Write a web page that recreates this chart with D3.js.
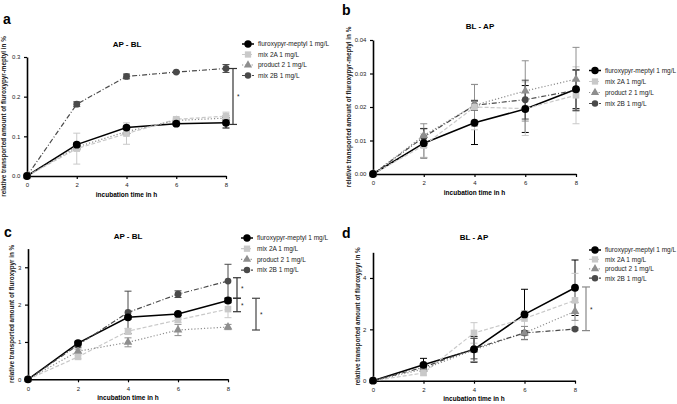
<!DOCTYPE html>
<html><head><meta charset="utf-8">
<script src="https://cdn.jsdelivr.net/npm/d3@7"></script>
<style>
body{margin:0;background:#fff;}
svg{display:block;font-family:Arial,"Liberation Sans",sans-serif;}
</style></head>
<body>
<svg id="chart" width="677" height="404"></svg>
<script>
// ---------- data ----------
const times = [0, 2, 4, 6, 8];
const seriesNames = ["fluroxypyr-meptyl 1 mg/L", "mix 2A 1 mg/L", "product 2 1 mg/L", "mix 2B 1 mg/L"];

// panel a: AP - BL, fluroxypyr-meptyl
const aFPM = [0, 0.079, 0.122, 0.132, 0.134];
const aFPMerr = [0, 0.004, 0.004, 0.003, 0.013];
const a2A = [0, 0.069, 0.107, 0.143, 0.151];
const a2Aerr = [0, 0.039, 0.027, 0.005, 0.010];
const aP2 = [0, 0.073, 0.112, 0.140, 0.146];
const aP2err = [0, 0.008, 0.008, 0.004, 0.006];
const a2B = [0, 0.181, 0.251, 0.262, 0.271];
const a2Berr = [0, 0.006, 0.006, 0.002, 0.010];

// panel b: BL - AP, fluroxypyr-meptyl
const bFPM = [0, 0.0092, 0.0153, 0.0194, 0.0253];
const bFPMerr = [0, 0.0044, 0.0065, 0.0070, 0.0058];
const b2A = [0, 0.0085, 0.0200, 0.0195, 0.0235];
const b2Aerr = [0, 0.0035, 0.0068, 0.0080, 0.0085];
const bP2 = [0, 0.0115, 0.0205, 0.0248, 0.0283];
const bP2err = [0, 0.0035, 0.0062, 0.0090, 0.0095];
const b2B = [0, 0.0110, 0.0205, 0.0222, 0.0250];
const b2Berr = [0, 0.0025, 0.0015, 0.0058, 0.0060];

// panel c: AP - BL, fluroxypyr
const cFPM = [0, 0.97, 1.66, 1.75, 2.11];
const cFPMerr = [0, 0.05, 0.05, 0.04, 0.06];
const c2A = [0, 0.60, 1.29, 1.59, 1.88];
const c2Aerr = [0, 0.05, 0.07, 0.07, 0.23];
const cP2 = [0, 0.75, 0.99, 1.32, 1.40];
const cP2err = [0, 0.06, 0.12, 0.15, 0.07];
const c2B = [0, 0.92, 1.79, 2.28, 2.63];
const c2Berr = [0, 0.06, 0.57, 0.09, 0.45];

// panel d: BL - AP, fluroxypyr
const dFPM = [0, 0.62, 1.22, 2.58, 3.62];
const dFPMerr = [0, 0.25, 0.50, 0.98, 1.08];
const d2A = [0, 0.30, 1.86, 2.42, 3.13];
const d2Aerr = [0, 0.08, 0.40, 0.30, 1.05];
const dP2 = [0, 0.45, 1.20, 1.86, 2.70];
const dP2err = [0, 0.10, 0.45, 0.25, 0.35];
const d2B = [0, 0.52, 1.25, 1.86, 2.01];
const d2Berr = [0, 0.08, 0.40, 0.08, 0.04];

// significance brackets [from, to] in data units
const aBrackets = [[0.271, 0.130]];
const cBrackets = [[2.72, 2.17], [2.17, 1.81]];
const cBrackets2 = [[2.17, 1.32]];
const dBrackets = [[3.65, 1.95]];

// tick labels
const aTicks = [0, 0.1, 0.2, 0.3];
const bTicks = [0, 0.01, 0.02, 0.03, 0.04];
const cTicks = [0, 1, 2, 3];
const dTicks = [0, 2, 4];

// ---------- styles ----------
const styles = [
  {color: "#000000", dash: null, shape: "circle", r: 3.9, width: 1.5},
  {color: "#c9c9c9", dash: "4,2", shape: "square", r: 3.3, width: 1.2},
  {color: "#8e8e8e", dash: "1.2,2", shape: "triangle", r: 3.2, width: 1.2},
  {color: "#4a4a4a", dash: "5,2,1,2", shape: "circle", r: 3.4, width: 1.2}
];

const svg = d3.select("#chart");

function marker(g, shape, cx, cy, r, color) {
  if (shape === "circle") {
    g.append("circle").attr("cx", cx).attr("cy", cy).attr("r", r).attr("fill", color);
  } else if (shape === "square") {
    g.append("rect").attr("x", cx - r).attr("y", cy - r).attr("width", 2 * r).attr("height", 2 * r).attr("fill", color);
  } else {
    const sym = d3.symbol().type(d3.symbolTriangle).size(r * r * 3.2);
    g.append("path").attr("d", sym()).attr("transform", `translate(${cx},${cy})`).attr("fill", color);
  }
}

function drawPanel(p) {
  const g = svg.append("g");
  const x = d3.scaleLinear().domain([0, 8]).range([p.x0, p.x1]);
  const y = d3.scaleLinear().domain([0, p.ymax]).range([p.y0, p.y1]);

  // axes
  const xAxis = d3.axisBottom(x).tickValues(times).tickSize(3).tickSizeOuter(0).tickFormat(d3.format("d"));
  const xa = g.append("g").attr("transform", `translate(0,${p.y0})`).call(xAxis);
  const yAxis = d3.axisLeft(y).tickValues(p.ticks).tickSize(3).tickSizeOuter(0).tickFormat(p.fmt);
  const ya = g.append("g").attr("transform", `translate(${p.x0},0)`).call(yAxis);
  [xa, ya].forEach(a => {
    a.select(".domain").attr("stroke", "#000").attr("stroke-width", 1.6);
    a.selectAll(".tick line").attr("stroke", "#000").attr("stroke-width", 1.2);
    a.selectAll(".tick text").attr("font-size", 6).attr("fill", "#222").attr("font-family", "Arial, Liberation Sans, sans-serif");
  });
  xa.selectAll(".tick text").attr("dy", "0.9em");
  ya.selectAll(".tick text").attr("dx", "-0.1em");

  // series
  p.series.forEach((s, i) => {
    const st = styles[i];
    const line = d3.line().x((d, k) => x(times[k])).y(d => y(d));
    g.append("path").datum(s.v).attr("d", line).attr("fill", "none")
      .attr("stroke", st.color).attr("stroke-width", st.width)
      .attr("stroke-dasharray", st.dash);
    // error bars
    s.v.forEach((v, k) => {
      const e = s.e[k];
      if (!e) return;
      const xx = x(times[k]);
      const eg = g.append("g").attr("stroke", st.color).attr("stroke-width", 1);
      eg.append("line").attr("x1", xx).attr("x2", xx).attr("y1", y(v - e)).attr("y2", y(v + e));
      eg.append("line").attr("x1", xx - 3.5).attr("x2", xx + 3.5).attr("y1", y(v - e)).attr("y2", y(v - e));
      eg.append("line").attr("x1", xx - 3.5).attr("x2", xx + 3.5).attr("y1", y(v + e)).attr("y2", y(v + e));
    });
  });
  // markers drawn on top in reverse order so black is on top
  for (let i = p.series.length - 1; i >= 0; i--) {
    const st = styles[i];
    p.series[i].v.forEach((v, k) => marker(g, st.shape, x(times[k]), y(v), st.r, st.color));
  }

  // brackets
  p.brackets.forEach(b => {
    b.list.forEach(([from, to]) => {
      const bg = g.append("g").attr("stroke", b.color).attr("stroke-width", 1.2);
      bg.append("line").attr("x1", b.x).attr("x2", b.x).attr("y1", y(from)).attr("y2", y(to));
      bg.append("line").attr("x1", b.x - 4).attr("x2", b.x + 4).attr("y1", y(from)).attr("y2", y(from));
      bg.append("line").attr("x1", b.x - 4).attr("x2", b.x + 4).attr("y1", y(to)).attr("y2", y(to));
      g.append("text").attr("x", b.x + 4).attr("y", (y(from) + y(to)) / 2 + 3)
        .attr("font-size", 6.5).attr("fill", "#222").text("*");
    });
  });

  // texts
  g.append("text").attr("x", p.letter[0]).attr("y", p.letter[1]).attr("font-size", 14)
    .attr("font-weight", "bold").attr("fill", "#000").text(p.letterText);
  g.append("text").attr("x", p.title[0]).attr("y", p.title[1]).attr("text-anchor", "middle")
    .attr("font-size", 8).attr("font-weight", "bold").attr("fill", "#000").text(p.titleText);
  g.append("text").attr("x", (p.x0 + p.x1) / 2).attr("y", p.xlabY).attr("text-anchor", "middle")
    .attr("font-size", 6.5).attr("font-weight", "bold").attr("fill", "#000").text("incubation time in h");
  g.append("text").attr("transform", `translate(${p.ylabX},${(p.y0 + p.y1) / 2}) rotate(-90)`)
    .attr("text-anchor", "middle").attr("font-size", 6.3).attr("font-weight", "bold").attr("fill", "#222")
    .text(p.ylabText);

  // legend
  seriesNames.forEach((name, i) => {
    const st = styles[i];
    const ly = p.legY + i * p.legStep;
    g.append("line").attr("x1", p.legX - 6).attr("x2", p.legX + 6).attr("y1", ly).attr("y2", ly)
      .attr("stroke", st.color).attr("stroke-width", st.width).attr("stroke-dasharray", st.dash);
    marker(g, st.shape, p.legX, ly, st.r * 0.95, st.color);
    g.append("text").attr("x", p.legX + 10).attr("y", ly + 2.3).attr("font-size", 6.5)
      .attr("fill", "#222").text(name);
  });
}

drawPanel({
  x0: 27, x1: 226, y0: 176, y1: 57, ymax: 0.3, ticks: aTicks, fmt: d3.format(".1f"),
  series: [{v: aFPM, e: aFPMerr}, {v: a2A, e: a2Aerr}, {v: aP2, e: aP2err}, {v: a2B, e: a2Berr}],
  brackets: [{x: 233, color: "#333", list: aBrackets}],
  letter: [3, 24], letterText: "a", title: [127, 47], titleText: "AP - BL",
  xlabY: 197, ylabX: 6, ylabText: "relative transported amount of fluroxypyr-meptyl in %",
  legX: 248, legY: 44, legStep: 10.5
});
drawPanel({
  x0: 373, x1: 576, y0: 174, y1: 40, ymax: 0.04, ticks: bTicks, fmt: d3.format(".2f"),
  series: [{v: bFPM, e: bFPMerr}, {v: b2A, e: b2Aerr}, {v: bP2, e: bP2err}, {v: b2B, e: b2Berr}],
  brackets: [],
  letter: [342, 15], letterText: "b", title: [480, 29], titleText: "BL - AP",
  xlabY: 195, ylabX: 351, ylabText: "relative transported amount of fluroxypyr-meptyl in %",
  legX: 595, legY: 70.5, legStep: 11
});
drawPanel({
  x0: 28, x1: 228, y0: 379.3, y1: 248.6, ymax: 3.5, ticks: cTicks, fmt: d3.format("d"),
  series: [{v: cFPM, e: cFPMerr}, {v: c2A, e: c2Aerr}, {v: cP2, e: cP2err}, {v: c2B, e: c2Berr}],
  brackets: [{x: 237, color: "#333", list: cBrackets}, {x: 256, color: "#444", list: cBrackets2}],
  letter: [4, 237], letterText: "c", title: [128, 239], titleText: "AP - BL",
  xlabY: 400, ylabX: 14, ylabText: "relative transported amount of fluroxypyr in %",
  legX: 247, legY: 238, legStep: 10.7
});
drawPanel({
  x0: 373, x1: 575, y0: 380.7, y1: 252.3, ymax: 5, ticks: dTicks, fmt: d3.format("d"),
  series: [{v: dFPM, e: dFPMerr}, {v: d2A, e: d2Aerr}, {v: dP2, e: dP2err}, {v: d2B, e: d2Berr}],
  brackets: [{x: 586, color: "#888", list: dBrackets}],
  letter: [342, 238], letterText: "d", title: [474, 240], titleText: "BL - AP",
  xlabY: 401, ylabX: 360, ylabText: "relative transported amount of fluroxypyr in %",
  legX: 595, legY: 250, legStep: 9.4
});
</script>
</body></html>
